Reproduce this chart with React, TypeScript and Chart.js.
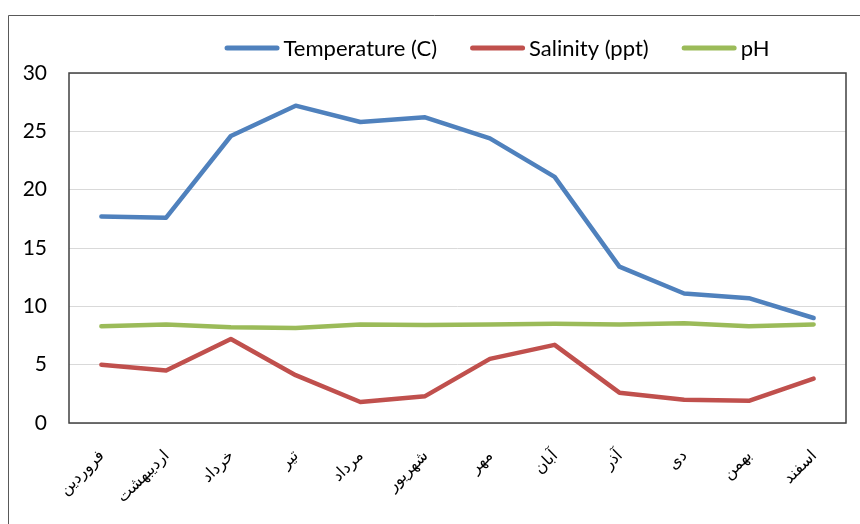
import { useEffect, useRef } from "react";
import { Chart, registerables } from "chart.js";

Chart.register(...registerables);

// Persian month names (Farvardin .. Esfand)
const months = [
  "فروردین",
  "اردیبهشت",
  "خرداد",
  "تیر",
  "مرداد",
  "شهریور",
  "مهر",
  "آبان",
  "آذر",
  "دی",
  "بهمن",
  "اسفند",
];

const temperature = [17.7, 17.6, 24.6, 27.2, 25.8, 26.2, 24.4, 21.1, 13.4, 11.1, 10.7, 9.0];
const salinity = [5.0, 4.5, 7.2, 4.1, 1.8, 2.3, 5.5, 6.7, 2.6, 2.0, 1.9, 3.8];
const ph = [8.3, 8.45, 8.2, 8.15, 8.45, 8.4, 8.45, 8.5, 8.45, 8.55, 8.3, 8.45];

const yTickValues = [0, 5, 10, 15, 20, 25, 30];

const seriesLabels = ["Temperature (C)", "Salinity (ppt)", "pH"];
const seriesColors = ["#4F81BD", "#C0504D", "#9BBB59"];

const FONT = "Lato, 'DejaVu Sans', sans-serif";
const W = 860;
const H = 524;

// Outer frame plus the dark border round the plot area
const framePlugin = {
  id: "frames",
  beforeDraw(chart: any) {
    const { ctx } = chart;
    ctx.save();
    ctx.fillStyle = "#ffffff";
    ctx.fillRect(0, 0, chart.width, chart.height);
    ctx.strokeStyle = "#595959";
    ctx.lineWidth = 1;
    ctx.beginPath();
    ctx.moveTo(8.5, chart.height);
    ctx.lineTo(8.5, 15.5);
    ctx.lineTo(chart.width, 15.5);
    ctx.stroke();
    ctx.restore();
  },
  beforeDatasetsDraw(chart: any) {
    const { ctx, chartArea: a } = chart;
    ctx.save();
    ctx.strokeStyle = "#404040";
    ctx.lineWidth = 1.5;
    ctx.strokeRect(a.left, a.top, a.right - a.left, a.bottom - a.top);
    ctx.restore();
  },
};

// Legend drawn as short thick lines followed by the series name
const lineLegendPlugin = {
  id: "lineLegend",
  afterDraw(chart: any) {
    const { ctx } = chart;
    const centerX = 497;
    const centerY = 48;
    const lineLen = 55;
    const gap = 4;
    const itemGap = 33;
    ctx.save();
    ctx.font = `22px ${FONT}`;
    ctx.textBaseline = "middle";
    ctx.textAlign = "left";
    const items = chart.data.datasets.map((d: any) => ({
      text: d.label as string,
      color: d.borderColor as string,
      w: ctx.measureText(d.label).width,
    }));
    const total =
      items.reduce((s: number, it: any) => s + lineLen + gap + it.w, 0) +
      itemGap * (items.length - 1);
    let x = centerX - total / 2;
    for (const it of items) {
      ctx.strokeStyle = it.color;
      ctx.lineWidth = 5;
      ctx.lineCap = "round";
      ctx.beginPath();
      ctx.moveTo(x + 2.5, centerY);
      ctx.lineTo(x + lineLen - 2.5, centerY);
      ctx.stroke();
      ctx.fillStyle = "#000000";
      ctx.fillText(it.text, x + lineLen + gap, centerY + 1);
      x += lineLen + gap + it.w + itemGap;
    }
    ctx.restore();
  },
};

export default function App() {
  const canvasRef = useRef<HTMLCanvasElement | null>(null);

  useEffect(() => {
    document.body.style.margin = "0";
    const canvas = canvasRef.current;
    if (!canvas) return;

    const series = [temperature, salinity, ph];
    const chart = new Chart(canvas, {
      type: "line",
      data: {
        labels: months,
        datasets: series.map((values, i) => ({
          label: seriesLabels[i],
          data: values,
          borderColor: seriesColors[i],
          backgroundColor: seriesColors[i],
          borderWidth: 4.5,
          borderCapStyle: "round",
          borderJoinStyle: "round",
          pointRadius: 0,
          pointHoverRadius: 0,
          tension: 0,
          fill: false,
        })),
      },
      options: {
        responsive: false,
        animation: false,
        events: [],
        layout: { padding: { top: 73, right: 14, left: 0, bottom: 0 } },
        plugins: {
          legend: { display: false },
          tooltip: { enabled: false },
        },
        scales: {
          x: {
            offset: true,
            grid: { display: false, drawTicks: false },
            border: { display: false },
            ticks: {
              autoSkip: false,
              minRotation: 45,
              maxRotation: 45,
              padding: 23,
              color: "#000000",
              font: { family: FONT, size: 16 },
            },
            afterFit(scale: any) {
              scale.height = H - 423;
            },
          },
          y: {
            min: 0,
            max: 30,
            grid: { color: "#d9d9d9", lineWidth: 1, drawTicks: false },
            border: { display: false },
            afterBuildTicks(scale: any) {
              scale.ticks = yTickValues.map((v) => ({ value: v }));
            },
            ticks: {
              padding: 22,
              color: "#000000",
              font: { family: FONT, size: 21 },
            },
            afterFit(scale: any) {
              scale.width = 69;
            },
          },
        },
      },
      plugins: [framePlugin, lineLegendPlugin],
    });

    return () => chart.destroy();
  }, []);

  return (
    <div style={{ position: "fixed", left: 0, top: 0, width: W, height: H }}>
      <canvas ref={canvasRef} width={W} height={H} style={{ display: "block", width: W, height: H }} />
    </div>
  );
}
